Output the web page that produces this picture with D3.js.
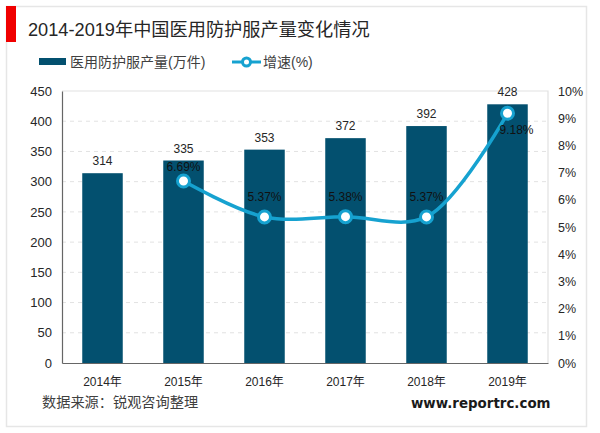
<!DOCTYPE html>
<html>
<head>
<meta charset="utf-8">
<script src="https://cdn.jsdelivr.net/npm/d3@7"></script>
<style>
  html, body { margin: 0; padding: 0; background: #fff; }
  text { font-family: "Liberation Sans", "Noto Sans CJK SC", sans-serif; fill: #262626; }
  .tick text { font-size: 12px; }
</style>
</head>
<body>
<div id="chart"></div>
<script>
const years = ['2014年', '2015年', '2016年', '2017年', '2018年', '2019年'];
const output = [314, 335, 353, 372, 392, 428];
const growthYears = ['2015年', '2016年', '2017年', '2018年', '2019年'];
const growth = [6.69, 5.37, 5.38, 5.37, 9.18];
const leftTicks = [0, 50, 100, 150, 200, 250, 300, 350, 400, 450];
const rightTicks = [0, 1, 2, 3, 4, 5, 6, 7, 8, 9, 10];

const svgWidth = 600;
const svgHeight = 433;
const margin = { top: 91, right: 52, bottom: 70, left: 62 };
const width = svgWidth - margin.left - margin.right;
const height = svgHeight - margin.top - margin.bottom;

const barColor = '#03506f';
const lineColor = '#16a2d0';

const svg = d3.select('#chart').append('svg')
  .attr('width', svgWidth)
  .attr('height', svgHeight)
  .style('display', 'block');

// outer frame and red title marker
svg.append('rect')
  .attr('x', 6.5).attr('y', 6.5)
  .attr('width', 580).attr('height', 420)
  .attr('fill', '#fff')
  .attr('stroke', '#e6e6e6')
  .attr('stroke-width', 1.5);

svg.append('rect')
  .attr('x', 6).attr('y', 6)
  .attr('width', 10).attr('height', 36)
  .attr('fill', '#f00000');

svg.append('text')
  .attr('x', 28).attr('y', 36)
  .style('font-size', '18.2px')
  .text('2014-2019年中国医用防护服产量变化情况');

// legend
const legend = svg.append('g');
legend.append('rect')
  .attr('x', 39).attr('y', 58)
  .attr('width', 27).attr('height', 7)
  .attr('fill', barColor);
legend.append('text')
  .attr('x', 70).attr('y', 67)
  .style('font-size', '14px')
  .style('fill', '#404040')
  .text('医用防护服产量(万件)');
legend.append('line')
  .attr('x1', 232).attr('x2', 261)
  .attr('y1', 62).attr('y2', 62)
  .attr('stroke', lineColor)
  .attr('stroke-width', 3);
legend.append('circle')
  .attr('cx', 246.5).attr('cy', 62).attr('r', 4)
  .attr('fill', '#fff')
  .attr('stroke', lineColor)
  .attr('stroke-width', 3);
legend.append('text')
  .attr('x', 263).attr('y', 67)
  .style('font-size', '14px')
  .style('fill', '#404040')
  .text('增速(%)');

const chartGroup = svg.append('g')
  .attr('transform', `translate(${margin.left}, ${margin.top})`);

const x = d3.scaleBand().domain(years).range([0, width]).paddingInner(0.5).paddingOuter(0.25);
const yLeft = d3.scaleLinear().domain([0, 450]).range([height, 0]);
const yRight = d3.scaleLinear().domain([0, 10]).range([height, 0]);

// dashed gridlines
chartGroup.append('g')
  .selectAll('line')
  .data(leftTicks.slice(1, -1))
  .enter()
  .append('line')
  .attr('x1', 0).attr('x2', width)
  .attr('y1', d => yLeft(d)).attr('y2', d => yLeft(d))
  .attr('stroke', '#e2e2e2')
  .attr('stroke-dasharray', '4 4');

// plot top and right edges
chartGroup.append('path')
  .attr('d', `M0,0H${width}V${height}`)
  .attr('fill', 'none')
  .attr('stroke', '#e2e2e2')
  .attr('stroke-width', 1.2);

// bars
chartGroup.selectAll('.bar')
  .data(years)
  .enter()
  .append('rect')
  .attr('class', 'bar')
  .attr('x', d => x(d))
  .attr('y', (d, i) => yLeft(output[i]))
  .attr('width', x.bandwidth())
  .attr('height', (d, i) => height - yLeft(output[i]))
  .attr('fill', barColor);

// axes
const xAxis = chartGroup.append('g')
  .attr('transform', `translate(0,${height})`)
  .call(d3.axisBottom(x).tickSize(0).tickPadding(14));
xAxis.select('.domain').attr('stroke', '#666').attr('stroke-width', 1.2);

const yAxis = chartGroup.append('g')
  .call(d3.axisLeft(yLeft).tickValues(leftTicks).tickSize(0).tickPadding(10));
yAxis.select('.domain').attr('stroke', '#666').attr('stroke-width', 1.2);
yAxis.selectAll('.tick text').style('font-size', '13px');

const yAxisRight = chartGroup.append('g')
  .attr('transform', `translate(${width},0)`)
  .call(d3.axisRight(yRight).tickValues(rightTicks).tickSize(0).tickPadding(10).tickFormat(d => d + '%'));
yAxisRight.select('.domain').remove();
yAxisRight.selectAll('.tick text').style('font-size', '12.5px');

// growth line
const line = d3.line()
  .x((d, i) => x(growthYears[i]) + x.bandwidth() / 2)
  .y(d => yRight(d))
  .curve(d3.curveCatmullRom.alpha(0.5));

chartGroup.append('path')
  .datum(growth)
  .attr('d', line)
  .attr('fill', 'none')
  .attr('stroke', lineColor)
  .attr('stroke-width', 3.5);

chartGroup.selectAll('.dot')
  .data(growth)
  .enter()
  .append('circle')
  .attr('class', 'dot')
  .attr('cx', (d, i) => x(growthYears[i]) + x.bandwidth() / 2)
  .attr('cy', d => yRight(d))
  .attr('r', 6)
  .attr('fill', '#fff')
  .attr('stroke', lineColor)
  .attr('stroke-width', 3);

// data labels
chartGroup.selectAll('.barLabel')
  .data(years)
  .enter()
  .append('text')
  .attr('class', 'barLabel')
  .attr('x', d => x(d) + x.bandwidth() / 2)
  .attr('y', (d, i) => yLeft(output[i]) - 8)
  .attr('text-anchor', 'middle')
  .style('font-size', '12px')
  .text((d, i) => output[i]);

// the 2015 and 2019 labels sit at their own offsets from the dot
const growthLabelOffset = d => d > 9 ? 21 : d > 6 ? -10 : -16;

chartGroup.selectAll('.growthLabel')
  .data(growth)
  .enter()
  .append('text')
  .attr('class', 'growthLabel')
  .attr('x', (d, i) => x(growthYears[i]) + x.bandwidth() / 2 + (d > 9 ? 9 : 0))
  .attr('y', d => yRight(d) + growthLabelOffset(d))
  .attr('text-anchor', 'middle')
  .style('font-size', '12px')
  .style('fill', '#111')
  .text(d => d.toFixed(2) + '%');

// footer
svg.append('text')
  .attr('x', 42).attr('y', 407)
  .style('font-size', '14.2px')
  .style('fill', '#404040')
  .text('数据来源：锐观咨询整理');

svg.append('text')
  .attr('x', 411).attr('y', 408)
  .style('font-size', '13.4px')
  .style('font-weight', 'bold')
  .style('font-family', '"DejaVu Sans", sans-serif')
  .style('fill', '#1a1a1a')
  .text('www.reportrc.com');
</script>
</body>
</html>
